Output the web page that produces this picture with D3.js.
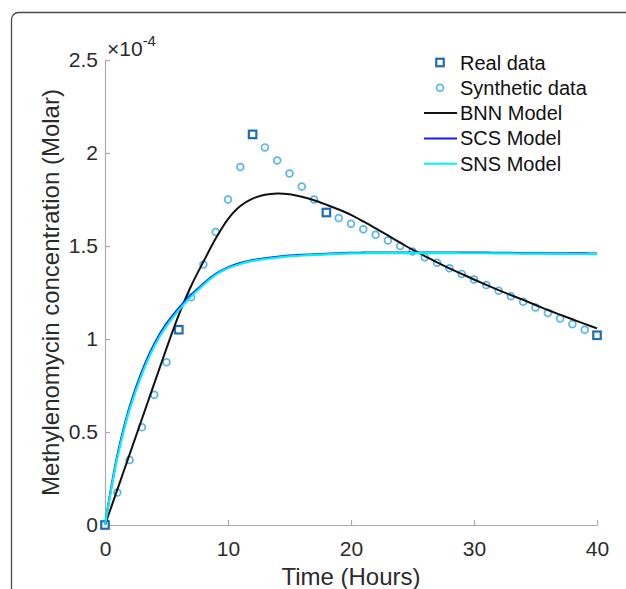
<!DOCTYPE html>
<html>
<head>
<meta charset="utf-8">
<script src="https://cdn.jsdelivr.net/npm/d3@7"></script>
<style>
  html, body { margin: 0; padding: 0; background: #fff; }
  svg { display: block; font-family: "Liberation Sans", Arial, Helvetica, sans-serif; }
</style>
</head>
<body>
<svg id="chart" width="626" height="589"></svg>
<script>
// ---- data (concentration in units of 1e-4 Molar) ----
const exponentLabel = "-4";
const xTicks = [0, 10, 20, 30, 40];
const yTicks = [0, 0.5, 1, 1.5, 2, 2.5];
const yTickLabels = ["0", "0.5", "1", "1.5", "2", "2.5"];

const realHours = [0, 6, 12, 18, 40];
const realValues = [0, 1.05, 2.10, 1.68, 1.02];

const synthHours = [1, 2, 3, 4, 5, 7, 8, 9, 10, 11, 13, 14, 15, 16, 17,
  19, 20, 21, 22, 23, 24, 25, 26, 27, 28, 29, 30, 31, 32, 33, 34, 35, 36, 37, 38, 39];
const synthValues = [0.175, 0.35, 0.525, 0.70, 0.875, 1.225, 1.40, 1.575, 1.75, 1.925,
  2.03, 1.96, 1.89, 1.82, 1.75,
  1.65, 1.62, 1.59, 1.56, 1.53, 1.50, 1.47, 1.44, 1.41, 1.38, 1.35, 1.32, 1.29, 1.26,
  1.23, 1.20, 1.17, 1.14, 1.11, 1.08, 1.05];

const modelHours = [0, 0.5, 1, 1.5, 2, 3, 4, 5, 6, 7, 8, 9, 10, 11, 12, 13, 14, 15, 16, 17, 18, 19, 20,
  21, 22, 23, 24, 25, 26, 27, 28, 29, 30, 31, 32, 33, 34, 35, 36, 37, 38, 39, 40];
const bnnValues = [0, 0.095, 0.19, 0.285, 0.38, 0.57, 0.76, 0.95, 1.13, 1.285, 1.415, 1.54, 1.645, 1.715,
  1.755, 1.775, 1.782, 1.778, 1.765, 1.746, 1.722, 1.696, 1.667, 1.632, 1.595, 1.557, 1.518,
  1.48, 1.446, 1.412, 1.38, 1.35, 1.32, 1.291, 1.263, 1.236, 1.21, 1.183, 1.156, 1.131,
  1.106, 1.081, 1.057];
const scsValues = [0, 0.198, 0.372, 0.513, 0.634, 0.825, 0.972, 1.082, 1.166, 1.237, 1.297, 1.35, 1.385,
  1.408, 1.424, 1.434, 1.442, 1.448, 1.452, 1.455, 1.458, 1.461, 1.463, 1.464, 1.465, 1.465,
  1.465, 1.465, 1.465, 1.465, 1.465, 1.464, 1.464, 1.464, 1.463, 1.463, 1.462, 1.462, 1.461,
  1.461, 1.460, 1.460, 1.459];
const snsValues = [0, 0.19, 0.36, 0.50, 0.62, 0.81, 0.96, 1.07, 1.155, 1.228, 1.29, 1.345, 1.38,
  1.403, 1.42, 1.43, 1.438, 1.444, 1.449, 1.452, 1.455, 1.458, 1.46, 1.461, 1.462, 1.462,
  1.462, 1.462, 1.462, 1.462, 1.462, 1.461, 1.461, 1.461, 1.46, 1.46, 1.459, 1.459, 1.458,
  1.458, 1.457, 1.457, 1.456];

const legendNames = ["Real data", "Synthetic data", "BNN Model", "SCS Model", "SNS Model"];
const colors = { real: "#1f6db5", synth: "#55b6ea", bnn: "#111111", scs: "#1a1aff", sns: "#00f2f2" };

// ---- drawing ----
const svg = d3.select("#chart");
svg.append("rect").attr("width", 626).attr("height", 589).attr("fill", "#fff");

// outer frame (rounded, runs off right/bottom)
svg.append("rect").attr("x", 11.5).attr("y", 12.5).attr("width", 640).attr("height", 600)
  .attr("rx", 7).attr("fill", "none").attr("stroke", "#4a4a4a").attr("stroke-width", 1.3);

const x = d3.scaleLinear().domain([0, 40]).range([105, 597]);
const y = d3.scaleLinear().domain([0, 2.5]).range([525, 60]);

const axisColor = "#ababab";
const textColor = "#2b2b2b";

const xAxis = svg.append("g").attr("transform", `translate(0,${y(0)})`)
  .call(d3.axisBottom(x).tickValues(xTicks).tickSizeInner(-5).tickSizeOuter(0).tickPadding(16.5)
    .tickFormat(d3.format("d")));
const yAxis = svg.append("g").attr("transform", `translate(${x(0)},0)`)
  .call(d3.axisLeft(y).tickValues(yTicks).tickSizeInner(-5).tickSizeOuter(0).tickPadding(7)
    .tickFormat((d, i) => yTickLabels[i]));
[xAxis, yAxis].forEach(g => {
  g.select(".domain").attr("stroke", axisColor).attr("stroke-width", 1.2);
  g.selectAll(".tick line").attr("stroke", axisColor).attr("stroke-width", 1.2);
  g.selectAll(".tick text").attr("fill", textColor).attr("font-size", 21)
    .attr("font-family", "'Liberation Sans', Arial, sans-serif");
});

// exponent
const expText = svg.append("text").attr("x", 107).attr("y", 56).attr("fill", textColor)
  .attr("font-size", 21);
expText.append("tspan").text("\u00d710");
expText.append("tspan").attr("dy", -10).attr("font-size", 15).text(exponentLabel);

// axis labels
svg.append("text").attr("x", (x(0) + x(40)) / 2).attr("y", 585).attr("text-anchor", "middle")
  .attr("fill", textColor).attr("font-size", 24).text("Time (Hours)");
svg.append("text").attr("transform", `translate(58.5,${(y(0) + y(2.5)) / 2}) rotate(-90)`)
  .attr("text-anchor", "middle").attr("fill", textColor).attr("font-size", 24)
  .text("Methylenomycin concentration (Molar)");

// markers
const squareSize = 7.5;
const circleR = 3.4;
svg.append("g").selectAll("rect").data(realHours).join("rect")
  .attr("x", (d) => x(d) - squareSize / 2)
  .attr("y", (d, i) => y(realValues[i]) - squareSize / 2)
  .attr("width", squareSize).attr("height", squareSize)
  .attr("fill", "#fff").attr("stroke", colors.real).attr("stroke-width", 2.2);

svg.append("g").selectAll("circle").data(synthHours).join("circle")
  .attr("cx", (d) => x(d)).attr("cy", (d, i) => y(synthValues[i])).attr("r", circleR)
  .attr("fill", "none").attr("stroke", colors.synth).attr("stroke-width", 1.7);

// model lines
const line = d3.line().x(d => x(d[0])).y(d => y(d[1])).curve(d3.curveCatmullRom.alpha(0.5));
const models = [
  { vals: bnnValues, color: colors.bnn, w: 2 },
  { vals: scsValues, color: colors.scs, w: 2.2 },
  { vals: snsValues, color: colors.sns, w: 2.2 }
];
models.forEach(m => {
  svg.append("path").datum(modelHours.map((h, i) => [h, m.vals[i]]))
    .attr("d", line).attr("fill", "none").attr("stroke", m.color)
    .attr("stroke-width", m.w).attr("stroke-linejoin", "round");
});

// legend
const lg = svg.append("g");
const rowY = i => 62.5 + i * 25.3;
legendNames.forEach((name, i) => {
  const cy = rowY(i);
  if (i === 0) {
    lg.append("rect").attr("x", 440 - squareSize / 2).attr("y", cy - squareSize / 2)
      .attr("width", squareSize).attr("height", squareSize)
      .attr("fill", "#fff").attr("stroke", colors.real).attr("stroke-width", 2.2);
  } else if (i === 1) {
    lg.append("circle").attr("cx", 440).attr("cy", cy).attr("r", circleR)
      .attr("fill", "none").attr("stroke", colors.synth).attr("stroke-width", 1.7);
  } else {
    const c = [colors.bnn, colors.scs, colors.sns][i - 2];
    lg.append("line").attr("x1", 424).attr("x2", 457).attr("y1", cy).attr("y2", cy)
      .attr("stroke", c).attr("stroke-width", 2);
  }
  lg.append("text").attr("x", 460).attr("y", cy + 7).attr("fill", "#111")
    .attr("font-size", 20).text(name);
});
</script>
</body>
</html>
